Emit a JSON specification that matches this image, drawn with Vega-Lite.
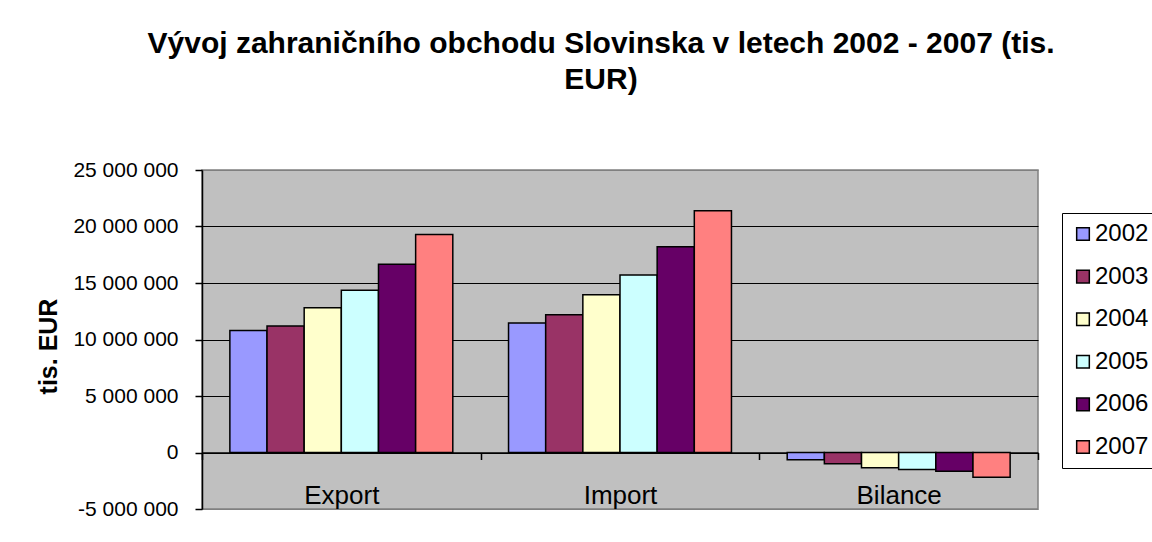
{
  "$schema": "https://vega.github.io/schema/vega-lite/v6.json",
  "width": 836,
  "height": 339,
  "autosize": {"type": "none"},
  "padding": {"left": 202, "top": 170, "right": 114, "bottom": 33},
  "background": "white",
  "title": {
    "text": ["Vývoj zahraničního obchodu Slovinska v letech 2002 - 2007 (tis.", "EUR)"],
    "font": "Liberation Sans",
    "fontSize": 30,
    "fontWeight": "bold",
    "color": "black",
    "anchor": "middle",
    "dx": -19,
    "offset": 64,
    "lineHeight": 36
  },
  "data": {
    "values": [
      {"cat": "Export", "year": "2002", "value": 10800000},
      {"cat": "Export", "year": "2003", "value": 11200000},
      {"cat": "Export", "year": "2004", "value": 12800000},
      {"cat": "Export", "year": "2005", "value": 14350000},
      {"cat": "Export", "year": "2006", "value": 16650000},
      {"cat": "Export", "year": "2007", "value": 19300000},
      {"cat": "Import", "year": "2002", "value": 11450000},
      {"cat": "Import", "year": "2003", "value": 12200000},
      {"cat": "Import", "year": "2004", "value": 13950000},
      {"cat": "Import", "year": "2005", "value": 15700000},
      {"cat": "Import", "year": "2006", "value": 18200000},
      {"cat": "Import", "year": "2007", "value": 21400000},
      {"cat": "Bilance", "year": "2002", "value": -650000},
      {"cat": "Bilance", "year": "2003", "value": -1000000},
      {"cat": "Bilance", "year": "2004", "value": -1350000},
      {"cat": "Bilance", "year": "2005", "value": -1500000},
      {"cat": "Bilance", "year": "2006", "value": -1650000},
      {"cat": "Bilance", "year": "2007", "value": -2200000}
    ]
  },
  "mark": {"type": "bar", "stroke": "black", "strokeWidth": 1.5},
  "encoding": {
    "x": {
      "field": "cat",
      "type": "nominal",
      "sort": ["Export", "Import", "Bilance"],
      "scale": {"paddingInner": 0, "paddingOuter": 0},
      "axis": {
        "title": null,
        "orient": "bottom",
        "offset": -56.5,
        "domainColor": "black",
        "domainWidth": 1.5,
        "tickColor": "black",
        "tickWidth": 1.5,
        "tickSize": 7,
        "tickBand": "extent",
        "labelAngle": 0,
        "labelFont": "Liberation Sans",
        "labelFontSize": 26,
        "labelColor": "black",
        "labelBaseline": "alphabetic",
        "labelPadding": 44,
        "grid": false
      }
    },
    "xOffset": {
      "field": "year",
      "type": "nominal",
      "scale": {"paddingInner": 0, "paddingOuter": 0.75}
    },
    "y": {
      "field": "value",
      "type": "quantitative",
      "scale": {"domain": [-5000000, 25000000], "nice": false, "zero": false},
      "axis": {
        "values": [-5000000, 0, 5000000, 10000000, 15000000, 20000000, 25000000],
        "format": ",d",
        "title": "tis. EUR",
        "titleFont": "Liberation Sans",
        "titleFontSize": 25,
        "titleFontWeight": "bold",
        "titleColor": "black",
        "titleAngle": 270,
        "titleAlign": "center",
        "titleBaseline": "middle",
        "titleX": -154,
        "titleY": 176,
        "labelFont": "Liberation Sans",
        "labelFontSize": 21,
        "labelColor": "black",
        "labelPadding": 17,
        "tickSize": 7,
        "tickColor": "black",
        "tickWidth": 1.5,
        "domainColor": "black",
        "domainWidth": 1.5,
        "grid": true,
        "gridColor": {"condition": {"test": "datum.value == 25000000 || datum.value == -5000000", "value": "#808080"}, "value": "black"},
        "gridWidth": 1,
        "gridOpacity": 1
      }
    },
    "color": {
      "field": "year",
      "type": "nominal",
      "scale": {
        "domain": ["2002", "2003", "2004", "2005", "2006", "2007"],
        "range": ["#9999FF", "#993366", "#FFFFCC", "#CCFFFF", "#660066", "#FF8080"]
      },
      "legend": {
        "title": null,
        "orient": "none",
        "legendX": 860,
        "legendY": 43,
        "strokeColor": "black",
        "fillColor": "white",
        "padding": 9,
        "cornerRadius": 0,
        "symbolType": "square",
        "symbolSize": 160,
        "symbolStrokeColor": "black",
        "symbolStrokeWidth": 1.5,
        "symbolOpacity": 1,
        "symbolOffset": 0,
        "labelFont": "Liberation Sans",
        "labelFontSize": 24,
        "labelColor": "black",
        "labelOffset": 0,
        "rowPadding": 18.6
      }
    }
  },
  "config": {
    "view": {"fill": "#C0C0C0", "stroke": "#808080", "strokeWidth": 1.5},
    "locale": {
      "number": {"decimal": ",", "thousands": " ", "grouping": [3], "currency": ["", " EUR"], "minus": "-"}
    }
  }
}
